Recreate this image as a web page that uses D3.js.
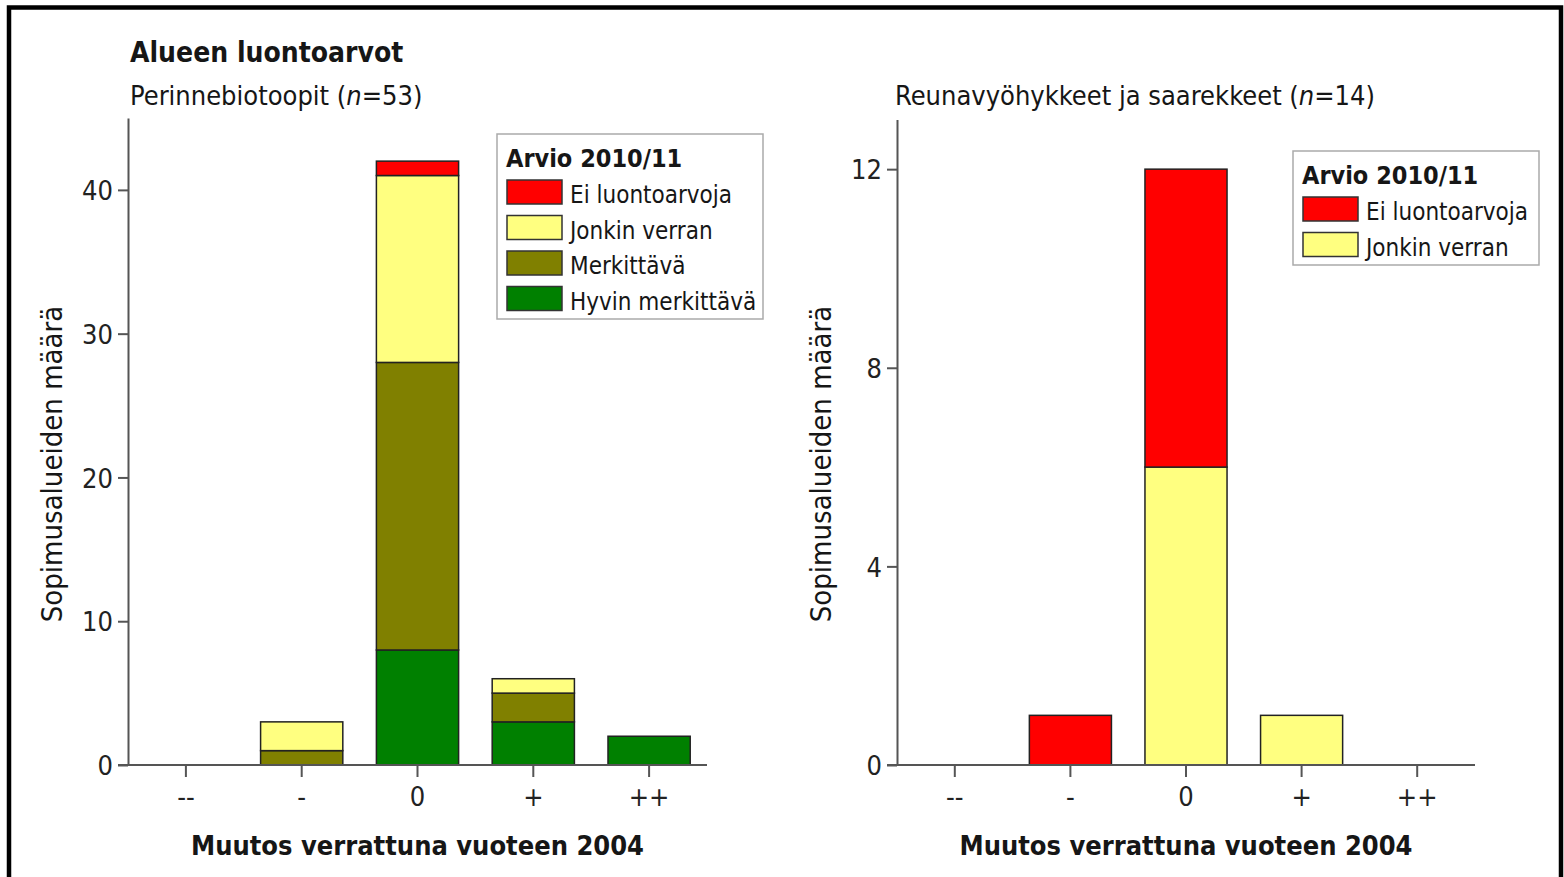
<!DOCTYPE html>
<html>
<head>
<meta charset="utf-8">
<script src="https://cdn.jsdelivr.net/npm/d3@7"></script>
<style>
	body { margin: 0; background: #fff; }
	text { font-family: "DejaVu Sans Condensed", "DejaVu Sans", sans-serif; fill: #161616; }
	.axis path, .axis line { stroke: #555; stroke-width: 2; }
	.axis text { font-size: 27px; fill: #222; }
</style>
</head>
<body>
<svg id="chart" width="1564" height="877"></svg>
<script>
// categories on the x axis
const categories = ["--", "-", "0", "+", "++"];

// Perinnebiotoopit (n=53), bottom to top
const perinneHyvin = [0, 0, 8, 3, 2];
const perinneMerkittava = [0, 1, 20, 2, 0];
const perinneJonkin = [0, 2, 13, 1, 0];
const perinneEi = [0, 0, 1, 0, 0];
const perinneTicks = [0, 10, 20, 30, 40];

// Reunavyöhykkeet ja saarekkeet (n=14), bottom to top
const reunaJonkin = [0, 0, 6, 1, 0];
const reunaEi = [0, 1, 6, 0, 0];
const reunaTicks = [0, 4, 8, 12];

const colors = {
	"Ei luontoarvoja": "#ff0000",
	"Jonkin verran": "#ffff80",
	"Merkittävä": "#808000",
	"Hyvin merkittävä": "#008000"
};

const svg = d3.select("#chart");

// outer frame
svg.append("rect")
	.attr("x", 9).attr("y", 7.5)
	.attr("width", 1552).attr("height", 900)
	.attr("fill", "none")
	.attr("stroke", "#000")
	.attr("stroke-width", 4.5);

svg.append("text")
	.attr("x", 130).attr("y", 62)
	.style("font-size", "28px")
	.style("font-weight", "bold")
	.text("Alueen luontoarvot");

/**
 * Draws one stacked bar panel.
 */
function drawPanel(p) {
	const rows = categories.map((c, i) => {
		const row = { cat: c };
		p.series.forEach(s => { row[s.name] = s.values[i]; });
		return row;
	});
	const keys = p.series.map(s => s.name);
	const stacked = d3.stack().keys(keys)(rows);

	const x = d3.scaleBand()
		.domain(categories)
		.range([p.x0, p.x1])
		.paddingInner(0.29)
		.paddingOuter(0.145);
	const y = d3.scaleLinear()
		.domain([0, p.yMax])
		.range([765, p.yTopPx]);

	const g = svg.append("g");

	// subtitle
	const sub = g.append("text")
		.attr("x", p.subX).attr("y", 105)
		.style("font-size", "27px");
	sub.append("tspan").text(p.subtitle + " (");
	sub.append("tspan").style("font-style", "italic").text("n");
	sub.append("tspan").text("=" + p.n + ")");

	// bars
	stacked.forEach(layer => {
		g.append("g")
			.attr("fill", colors[layer.key])
			.attr("stroke", "#222")
			.attr("stroke-width", 1.5)
			.selectAll("rect")
			.data(layer.filter(d => d[1] - d[0] > 0))
			.join("rect")
			.attr("x", d => x(d.data.cat))
			.attr("width", x.bandwidth())
			.attr("y", d => y(d[1]))
			.attr("height", d => y(d[0]) - y(d[1]));
	});

	// axes
	const yAxis = g.append("g")
		.attr("class", "axis")
		.attr("transform", "translate(" + p.x0 + ",0)")
		.call(d3.axisLeft(y).tickValues(p.ticks).tickSize(10).tickPadding(5).tickSizeOuter(0));
	yAxis.selectAll(".tick text").attr("dy", "0.36em");

	const xAxis = g.append("g")
		.attr("class", "axis")
		.attr("transform", "translate(0,765)")
		.call(d3.axisBottom(x).tickSize(12).tickPadding(10).tickSizeOuter(0));
	xAxis.select(".domain").attr("d", "M" + (p.x0 - 10) + ",0H" + p.x1);

	// axis titles
	g.append("text")
		.attr("x", (p.x0 + p.x1) / 2).attr("y", 855)
		.attr("text-anchor", "middle")
		.style("font-size", "27px")
		.style("font-weight", "bold")
		.text("Muutos verrattuna vuoteen 2004");

	g.append("text")
		.attr("transform", "translate(" + (p.x0 - 66) + ",464) rotate(-90)")
		.attr("text-anchor", "middle")
		.style("font-size", "29px")
		.text("Sopimusalueiden määrä");

	// legend, top to bottom
	const items = keys.slice().reverse();
	const lg = g.append("g")
		.attr("transform", "translate(" + p.legendX + "," + p.legendY + ")");
	lg.append("rect")
		.attr("width", p.legendW)
		.attr("height", 46 + (items.length - 1) * 35.5 + 24 + 8.5)
		.attr("fill", "#fff")
		.attr("stroke", "#aaa")
		.attr("stroke-width", 1.5);
	lg.append("text")
		.attr("x", 9).attr("y", 33)
		.style("font-size", "25px")
		.style("font-weight", "bold")
		.text("Arvio 2010/11");
	const item = lg.selectAll(".item")
		.data(items)
		.join("g")
		.attr("class", "item")
		.attr("transform", (d, i) => "translate(10," + (46 + i * 35.5) + ")");
	item.append("rect")
		.attr("width", 55).attr("height", 24)
		.attr("fill", d => colors[d])
		.attr("stroke", "#333")
		.attr("stroke-width", 1.5);
	item.append("text")
		.attr("x", 63).attr("y", 23)
		.style("font-size", "24px")
		.text(d => d);
}

drawPanel({
	x0: 128, x1: 707, yMax: 45, yTopPx: 118,
	ticks: perinneTicks,
	subtitle: "Perinnebiotoopit", n: 53, subX: 130,
	series: [
		{ name: "Hyvin merkittävä", values: perinneHyvin },
		{ name: "Merkittävä", values: perinneMerkittava },
		{ name: "Jonkin verran", values: perinneJonkin },
		{ name: "Ei luontoarvoja", values: perinneEi }
	],
	legendX: 497, legendY: 134, legendW: 266
});

drawPanel({
	x0: 897, x1: 1475, yMax: 13, yTopPx: 119.5,
	ticks: reunaTicks,
	subtitle: "Reunavyöhykkeet ja saarekkeet", n: 14, subX: 895,
	series: [
		{ name: "Jonkin verran", values: reunaJonkin },
		{ name: "Ei luontoarvoja", values: reunaEi }
	],
	legendX: 1293, legendY: 151, legendW: 246
});
</script>
</body>
</html>
